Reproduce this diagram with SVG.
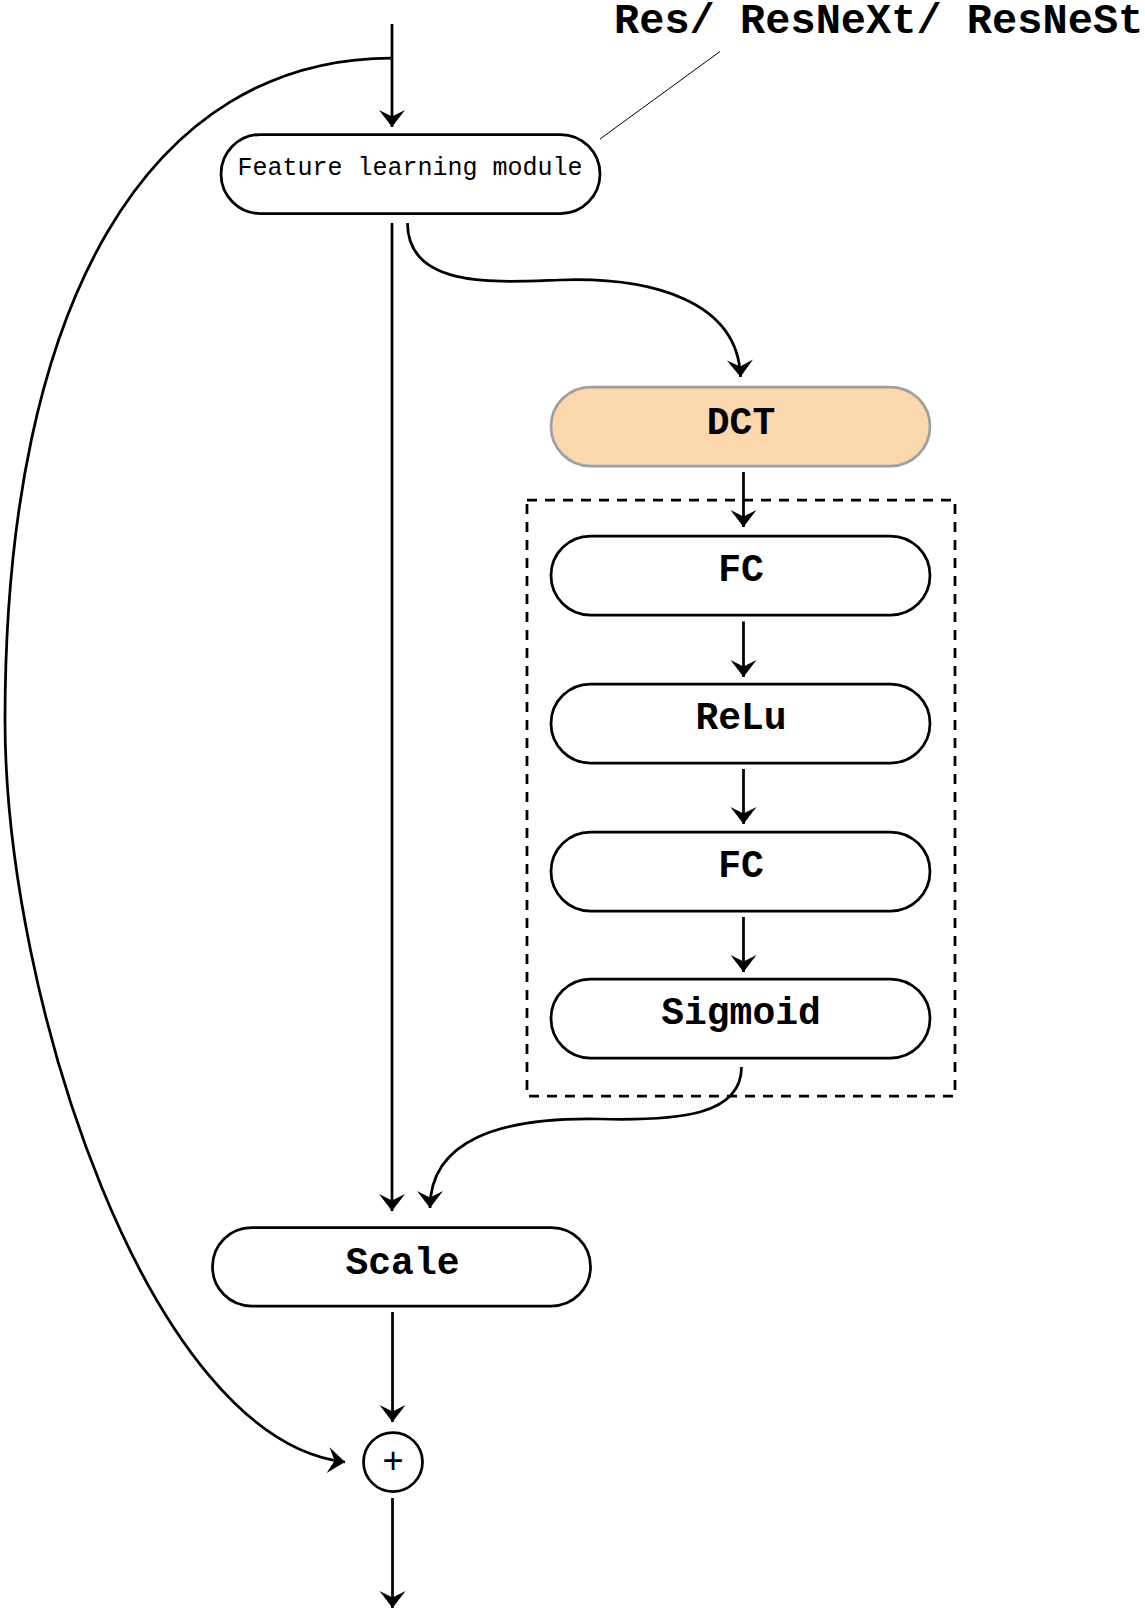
<svg xmlns="http://www.w3.org/2000/svg" width="1145" height="1611" viewBox="0 0 1145 1611">
<style>
.node{fill:#ffffff;stroke:#000000;stroke-width:2.75}
.dct{fill:#FAD7AC;stroke:#A0A0A0;stroke-width:2.75}
.lbl{font-family:"Liberation Mono","Courier New",monospace;font-weight:bold;font-size:38px;fill:#000;text-anchor:middle}
.small{font-family:"Liberation Mono","Courier New",monospace;font-size:25px;fill:#000;text-anchor:middle}
.title{font-family:"Liberation Mono","Courier New",monospace;font-weight:bold;font-size:42px;fill:#000}
.edge{fill:none;stroke:#000;stroke-width:2.75;marker-end:url(#arr)}
</style>
<defs>
<marker id="arr" markerUnits="userSpaceOnUse" markerWidth="32" markerHeight="32" viewBox="-20 -16 22 32" refX="0" refY="0" orient="auto">
<path d="M0,0 L-17,-13 L-10.5,0 L-17,13 Z" fill="#000"/>
</marker>
</defs>
<g id="title">
<text class="title" x="614" y="33">Res/ ResNeXt/ ResNeSt</text>
<line x1="600" y1="139" x2="720" y2="51.5" stroke="#000" stroke-width="1"/>
</g>
<g id="connectors">
<path class="edge" d="M392,24 L392,127"/>
<path class="edge" d="M392,58 C150,58 5,300 5,720 C5,1000 150,1440 345,1462"/>
<path class="edge" d="M392,223 L392,1211"/>
<path class="edge" d="M407.5,223 C407.5,290 500,282 560,280 C650,277 738,300 740.5,377"/>
<path class="edge" d="M743.5,472 L743.5,527"/>
<path class="edge" d="M743.5,621.5 L743.5,677"/>
<path class="edge" d="M743.5,769 L743.5,824"/>
<path class="edge" d="M743.5,917 L743.5,972"/>
<path class="edge" d="M741.5,1067 C741.5,1115 680,1121 600,1119 C500,1117 430,1140 430,1208"/>
<path class="edge" d="M392.5,1312 L392.5,1422"/>
<path class="edge" d="M392.5,1498 L392.5,1608"/>
</g>
<g id="group">
<rect x="527" y="500" width="428" height="596" fill="none" stroke="#000" stroke-width="2.75" stroke-dasharray="10 8"/>
</g>
<g id="feature">
<rect class="node" x="221" y="134.5" width="379" height="79" rx="39.5"/>
<text class="small" x="410" y="175">Feature learning module</text>
</g>
<g id="dct">
<rect class="dct" x="551" y="387" width="379" height="79" rx="39.5"/>
<text class="lbl" x="741" y="434">DCT</text>
</g>
<g id="fc1">
<rect class="node" x="551" y="536" width="379" height="79" rx="39.5"/>
<text class="lbl" x="741" y="580.5">FC</text>
</g>
<g id="relu">
<rect class="node" x="551" y="684" width="379" height="79" rx="39.5"/>
<text class="lbl" x="741" y="728.5">ReLu</text>
</g>
<g id="fc2">
<rect class="node" x="551" y="832" width="379" height="79" rx="39.5"/>
<text class="lbl" x="741" y="876.5">FC</text>
</g>
<g id="sigmoid">
<rect class="node" x="551" y="979" width="379" height="79" rx="39.5"/>
<text class="lbl" x="741" y="1024">Sigmoid</text>
</g>
<g id="scale">
<rect class="node" x="212.5" y="1227.5" width="378" height="78.5" rx="39"/>
<text class="lbl" x="402.5" y="1273.5">Scale</text>
</g>
<g id="plus">
<circle class="node" cx="393" cy="1462" r="29.5"/>
<text class="lbl" x="393" y="1473" style="font-size:36px;font-weight:normal">+</text>
</g>
</svg>
